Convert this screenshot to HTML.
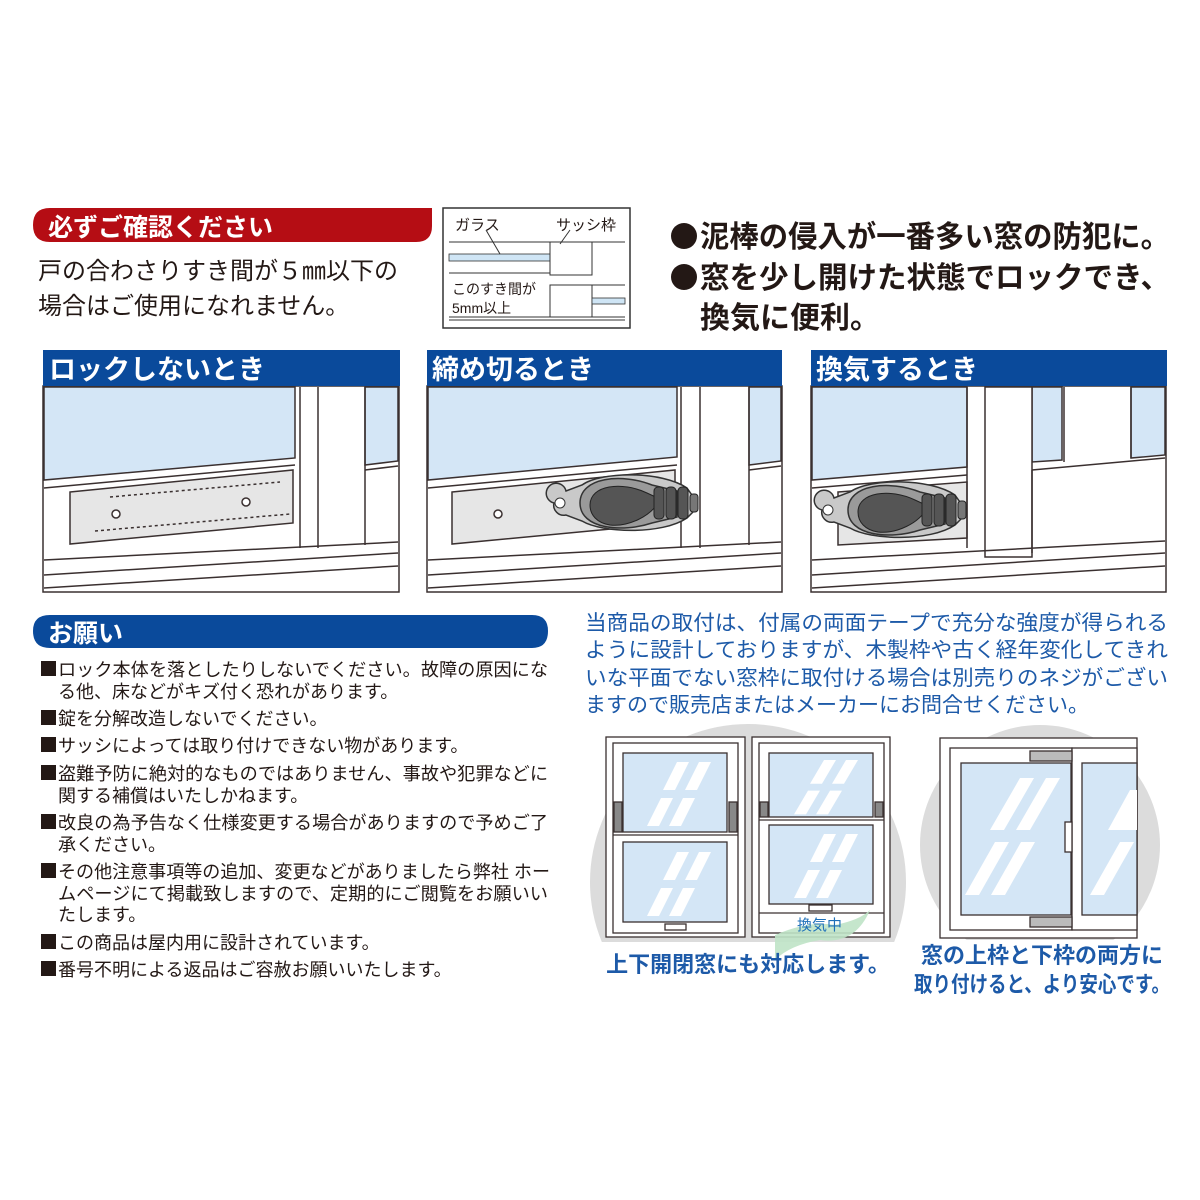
<!DOCTYPE html>
<html><head><meta charset="utf-8"><style>
html,body{margin:0;padding:0;background:#fff;}
svg{display:block;font-family:"Liberation Sans","Noto Sans CJK JP",sans-serif;}
</style></head><body>
<svg width="1200" height="1200" viewBox="0 0 1200 1200" xmlns="http://www.w3.org/2000/svg">
<defs>
<g id="lock">
  <path d="M-78,0 a10,10 0 1,1 12,-12 L-50,-18 C-30,-32 30,-32 55,-15 L62,-5 L62,8 L55,15 C30,32 -30,30 -50,18 L-66,12 a10,10 0 0,1 -12,-12Z" fill="#c9c9c9" stroke="#333" stroke-width="1.5"/>
  <circle cx="-72" cy="0" r="5" fill="#fff" stroke="#333"/>
  <path d="M-52,0 C-52,-26 -10,-30 20,-18 L45,-12 L45,14 L20,20 C-10,30 -52,26 -52,0Z" fill="#9a9a9a" stroke="#333" stroke-width="1.5"/>
  <path d="M-42,2 C-42,-18 -10,-22 15,-10 L28,-4 C20,14 -5,24 -22,22 C-35,20 -42,12 -42,2Z" fill="#555" stroke="#222"/>
  <rect x="22" y="-16" width="10" height="32" rx="4" fill="#555" stroke="#222"/>
  <rect x="34" y="-16" width="10" height="32" rx="4" fill="#555" stroke="#222"/>
  <rect x="46" y="-16" width="10" height="32" rx="4" fill="#555" stroke="#222"/>
  <rect x="58" y="-9" width="8" height="18" rx="3" fill="#777" stroke="#222"/>
</g>
<g id="slashes" fill="#fff">
  <polygon points="12,0 24,0 10,28 -2,28"/><polygon points="34,0 46,0 32,28 20,28"/>
  <polygon points="-4,36 8,36 -6,64 -18,64"/><polygon points="18,36 30,36 16,64 4,64"/>
</g>
</defs>

<!-- Top red banner -->
<path d="M50,208 H432 V226 Q432,242 416,242 H50 Q33,242 33,225 Q33,208 50,208Z" fill="#b50d14"/>
<text x="48" y="236" font-size="25" font-weight="bold" fill="#fff">必ずご確認ください</text>
<text x="38" y="279" font-size="24" fill="#231815">戸の合わさりすき間が５㎜以下の</text>
<text x="38" y="314" font-size="24" fill="#231815">場合はご使用になれません。</text>

<!-- small diagram -->
<rect x="443" y="208" width="187" height="120" fill="#fff" stroke="#333" stroke-width="1.5"/>
<text x="455" y="230" font-size="15" fill="#231815">ガラス</text>
<text x="556" y="230" font-size="15" fill="#231815">サッシ枠</text>
<line x1="449" y1="242" x2="550" y2="242" stroke="#333"/>
<line x1="449" y1="273" x2="550" y2="273" stroke="#333"/>
<rect x="449" y="254" width="101" height="7" fill="#cfe5f5" stroke="#333" stroke-width="0.8"/>
<rect x="550" y="242" width="42" height="33" fill="#fff" stroke="#333"/>
<line x1="592" y1="242" x2="625" y2="242" stroke="#333"/>
<rect x="550" y="285" width="42" height="32" fill="#fff" stroke="#333"/>
<line x1="592" y1="285" x2="625" y2="285" stroke="#333"/>
<rect x="592" y="298" width="33" height="6" fill="#cfe5f5" stroke="#333" stroke-width="0.8"/>
<line x1="449" y1="317" x2="625" y2="317" stroke="#333"/>
<line x1="449" y1="320" x2="625" y2="320" stroke="#333"/>
<line x1="486" y1="230" x2="500" y2="254" stroke="#333"/>
<line x1="570" y1="230" x2="560" y2="244" stroke="#333"/>
<text x="452" y="294" font-size="14" fill="#231815">このすき間が</text>
<text x="452" y="313" font-size="14" fill="#231815">5mm以上</text>

<!-- right bullets -->
<circle cx="684" cy="236" r="13" fill="#231815"/>
<circle cx="684" cy="277" r="13" fill="#231815"/>
<text x="700" y="247" font-size="30" font-weight="bold" fill="#231815" textLength="470" lengthAdjust="spacingAndGlyphs">泥棒の侵入が一番多い窓の防犯に。</text>
<text x="700" y="288" font-size="30" font-weight="bold" fill="#231815" textLength="470" lengthAdjust="spacingAndGlyphs">窓を少し開けた状態でロックでき、</text>
<text x="700" y="328" font-size="30" font-weight="bold" fill="#231815">換気に便利。</text>

<!-- Panel 1 -->
<g stroke="#3a3030" stroke-width="1.5">
<rect x="43" y="386" width="356" height="206" fill="#fff"/>
<polygon points="44,387 295,387 295,458 44,480" fill="#d4e6f6"/>
<polygon points="365,387 398,387 398,461 365,465" fill="#d4e6f6"/>
<line x1="300" y1="387" x2="300" y2="548" />
<line x1="318" y1="387" x2="318" y2="548"/>
<line x1="365" y1="387" x2="365" y2="545"/>
<line x1="44" y1="488" x2="295" y2="465" />
<line x1="365" y1="470" x2="398" y2="466"/>
<polygon points="70,492 293,470 293,523 70,544" fill="#e6e6e6"/>
<line x1="44" y1="560" x2="398" y2="542"/>
<line x1="44" y1="575" x2="398" y2="553"/>
<line x1="44" y1="588" x2="398" y2="566"/>
<circle cx="116" cy="514" r="4" fill="#fff"/>
<circle cx="246" cy="502" r="4" fill="#fff"/>
<polyline points="110,497 280,482" fill="none" stroke-dasharray="3 3"/>
<polyline points="95,531 290,514" fill="none" stroke-dasharray="3 3"/>
</g>
<rect x="43" y="350" width="357" height="36" fill="#0a4a9b"/>
<text x="49" y="379" font-size="27" font-weight="bold" fill="#fff">ロックしないとき</text>

<!-- Panel 2 -->
<g stroke="#3a3030" stroke-width="1.5">
<rect x="427" y="386" width="355" height="206" fill="#fff"/>
<polygon points="428,387 677,387 677,457 428,480" fill="#d4e6f6"/>
<polygon points="749,387 781,387 781,461 749,465" fill="#d4e6f6"/>
<line x1="681" y1="387" x2="681" y2="548"/>
<line x1="700" y1="387" x2="700" y2="548"/>
<line x1="749" y1="387" x2="749" y2="545"/>
<line x1="428" y1="488" x2="677" y2="465"/>
<line x1="749" y1="470" x2="781" y2="466"/>
<polygon points="452,492 675,470 675,523 452,544" fill="#e6e6e6"/>
<line x1="428" y1="560" x2="781" y2="542"/>
<line x1="428" y1="575" x2="781" y2="553"/>
<line x1="428" y1="588" x2="781" y2="566"/>
<circle cx="498" cy="514" r="4" fill="#fff"/>
</g>
<use href="#lock" x="632" y="503"/>
<rect x="427" y="350" width="355" height="36" fill="#0a4a9b"/>
<text x="432" y="379" font-size="27" font-weight="bold" fill="#fff">締め切るとき</text>

<!-- Panel 3 -->
<g stroke="#3a3030" stroke-width="1.5">
<rect x="811" y="386" width="355" height="206" fill="#fff"/>
<polygon points="812,387 967,387 967,467 812,480" fill="#d4e6f6"/>
<polygon points="1032,387 1062,387 1062,460 1032,462" fill="#d4e6f6"/>
<polygon points="1131,387 1165,387 1165,455 1131,458" fill="#d4e6f6"/>
<line x1="1064" y1="387" x2="1064" y2="462"/>
<line x1="1131" y1="387" x2="1131" y2="458"/>
<line x1="812" y1="488" x2="967" y2="475"/>
<line x1="1032" y1="470" x2="1165" y2="458"/>
<polygon points="838,492 967,482 967,538 838,545" fill="#e6e6e6"/>
<line x1="967" y1="387" x2="967" y2="548"/>
<rect x="985" y="387" width="47" height="170" fill="#fff"/>
<line x1="1032" y1="470" x2="1032" y2="553"/>
<line x1="812" y1="560" x2="1165" y2="541"/>
<line x1="812" y1="575" x2="1165" y2="553"/>
<line x1="812" y1="588" x2="1165" y2="566"/>
</g>
<use href="#lock" x="900" y="510"/>
<rect x="811" y="350" width="356" height="36" fill="#0a4a9b"/>
<text x="816" y="379" font-size="27" font-weight="bold" fill="#fff">換気するとき</text>

<!-- お願い -->
<path d="M50,615 H532 Q548,615 548,631 Q548,648 532,648 H50 Q33,648 33,631 Q33,615 50,615Z" fill="#0a4a9b"/>
<text x="48" y="642" font-size="25" font-weight="bold" fill="#fff">お願い</text>
<g fill="#231815">
<rect x="41" y="661" width="15" height="15"/>
<rect x="41" y="710" width="15" height="15"/>
<rect x="41" y="737" width="15" height="15"/>
<rect x="41" y="765" width="15" height="15"/>
<rect x="41" y="814" width="15" height="15"/>
<rect x="41" y="863" width="15" height="15"/>
<rect x="41" y="934" width="15" height="15"/>
<rect x="41" y="961" width="15" height="15"/>
</g>
<g font-size="18" fill="#231815">
<text x="58" y="676" textLength="490" lengthAdjust="spacingAndGlyphs">ロック本体を落としたりしないでください。故障の原因にな</text>
<text x="58" y="698">る他、床などがキズ付く恐れがあります。</text>
<text x="58" y="725">錠を分解改造しないでください。</text>
<text x="58" y="752">サッシによっては取り付けできない物があります。</text>
<text x="58" y="780" textLength="490" lengthAdjust="spacingAndGlyphs">盗難予防に絶対的なものではありません、事故や犯罪などに</text>
<text x="58" y="802">関する補償はいたしかねます。</text>
<text x="58" y="829" textLength="490" lengthAdjust="spacingAndGlyphs">改良の為予告なく仕様変更する場合がありますので予めご了</text>
<text x="58" y="851">承ください。</text>
<text x="58" y="878" textLength="492" lengthAdjust="spacingAndGlyphs">その他注意事項等の追加、変更などがありましたら弊社 ホー</text>
<text x="58" y="900" textLength="490" lengthAdjust="spacingAndGlyphs">ムページにて掲載致しますので、定期的にご閲覧をお願いい</text>
<text x="58" y="921">たします。</text>
<text x="58" y="949">この商品は屋内用に設計されています。</text>
<text x="58" y="976">番号不明による返品はご容赦お願いいたします。</text>
</g>

<!-- circles -->
<circle cx="748" cy="882" r="158" fill="#dcdcdc"/>
<circle cx="1040" cy="845" r="120" fill="#dcdcdc"/>
<rect x="580" y="942" width="330" height="120" fill="#fff"/>
<rect x="900" y="940" width="290" height="60" fill="#fff"/>

<!-- blue paragraph -->
<g font-size="21" fill="#1d5aa8">
<text x="585" y="630" textLength="583" lengthAdjust="spacingAndGlyphs">当商品の取付は、付属の両面テープで充分な強度が得られる</text>
<text x="585" y="657" textLength="583" lengthAdjust="spacingAndGlyphs">ように設計しておりますが、木製枠や古く経年変化してきれ</text>
<text x="585" y="685" textLength="583" lengthAdjust="spacingAndGlyphs">いな平面でない窓枠に取付ける場合は別売りのネジがござい</text>
<text x="585" y="712">ますので販売店またはメーカーにお問合せください。</text>
</g>

<!-- window A -->
<g stroke="#3a3030" stroke-width="1.3" fill="#fff">
<rect x="606" y="737" width="139" height="200"/>
<rect x="613" y="743" width="125" height="190"/>
<rect x="623" y="753" width="104" height="79" fill="#d4e6f6"/>
<line x1="613" y1="835" x2="738" y2="835"/>
<rect x="623" y="842" width="104" height="80" fill="#d4e6f6"/>
<rect x="665" y="924" width="21" height="6"/>
<rect x="614" y="802" width="8" height="30" fill="#888"/>
<rect x="729" y="802" width="8" height="30" fill="#888"/>
</g>
<use href="#slashes" x="665" y="762"/>
<use href="#slashes" x="665" y="852"/>
<!-- window B -->
<g stroke="#3a3030" stroke-width="1.3" fill="#fff">
<rect x="752" y="737" width="138" height="200"/>
<rect x="759" y="743" width="125" height="190"/>
<rect x="769" y="753" width="104" height="64" fill="#d4e6f6"/>
<line x1="759" y1="820" x2="884" y2="820"/>
<rect x="769" y="825" width="104" height="79" fill="#d4e6f6"/>
<rect x="809" y="905" width="23" height="6"/>
<line x1="759" y1="913" x2="884" y2="913"/>
<rect x="760" y="802" width="8" height="15" fill="#888"/>
<rect x="875" y="802" width="8" height="15" fill="#888"/>
</g>
<g transform="translate(812,760) scale(1,0.85)"><use href="#slashes"/></g>
<use href="#slashes" x="812" y="834"/>
<path d="M775,935 Q810,920 835,925 Q860,920 870,910 Q855,945 820,940 Q790,945 775,960Z" fill="#bfe3c6" opacity="0.9"/>
<text x="797" y="930" font-size="15" fill="#1d6fb8">換気中</text>

<!-- window C -->
<g stroke="#3a3030" stroke-width="1.3" fill="#fff">
<rect x="940" y="738" width="197" height="200"/>
<rect x="950" y="748" width="122" height="182"/>
<rect x="961" y="763" width="110" height="152" fill="#d4e6f6"/>
<rect x="1072" y="748" width="65" height="182"/>
<rect x="1082" y="763" width="55" height="152" fill="#d4e6f6"/>
<rect x="1030" y="751" width="42" height="10" fill="#bbb"/>
<rect x="1030" y="917" width="42" height="10" fill="#bbb"/>
<rect x="1065" y="822" width="7" height="30"/>
</g>
<g fill="#fff">
<polygon points="1020,778 1034,778 1004,830 990,830"/><polygon points="1046,778 1060,778 1030,830 1016,830"/>
<polygon points="995,842 1009,842 979,895 965,895"/><polygon points="1021,842 1035,842 1005,895 991,895"/>
<polygon points="1130,790 1137,790 1137,830 1108,830"/>
<polygon points="1120,842 1134,842 1104,895 1090,895"/>
</g>

<!-- captions -->
<text x="748" y="972" font-size="22" font-weight="bold" fill="#1d5aa8" text-anchor="middle">上下開閉窓にも対応します。</text>
<text x="1042" y="963" font-size="22" font-weight="bold" fill="#1d5aa8" text-anchor="middle">窓の上枠と下枠の両方に</text>
<text x="1042" y="992" font-size="22" font-weight="bold" fill="#1d5aa8" text-anchor="middle" textLength="256" lengthAdjust="spacingAndGlyphs">取り付けると、より安心です。</text>
</svg>
</body></html>
